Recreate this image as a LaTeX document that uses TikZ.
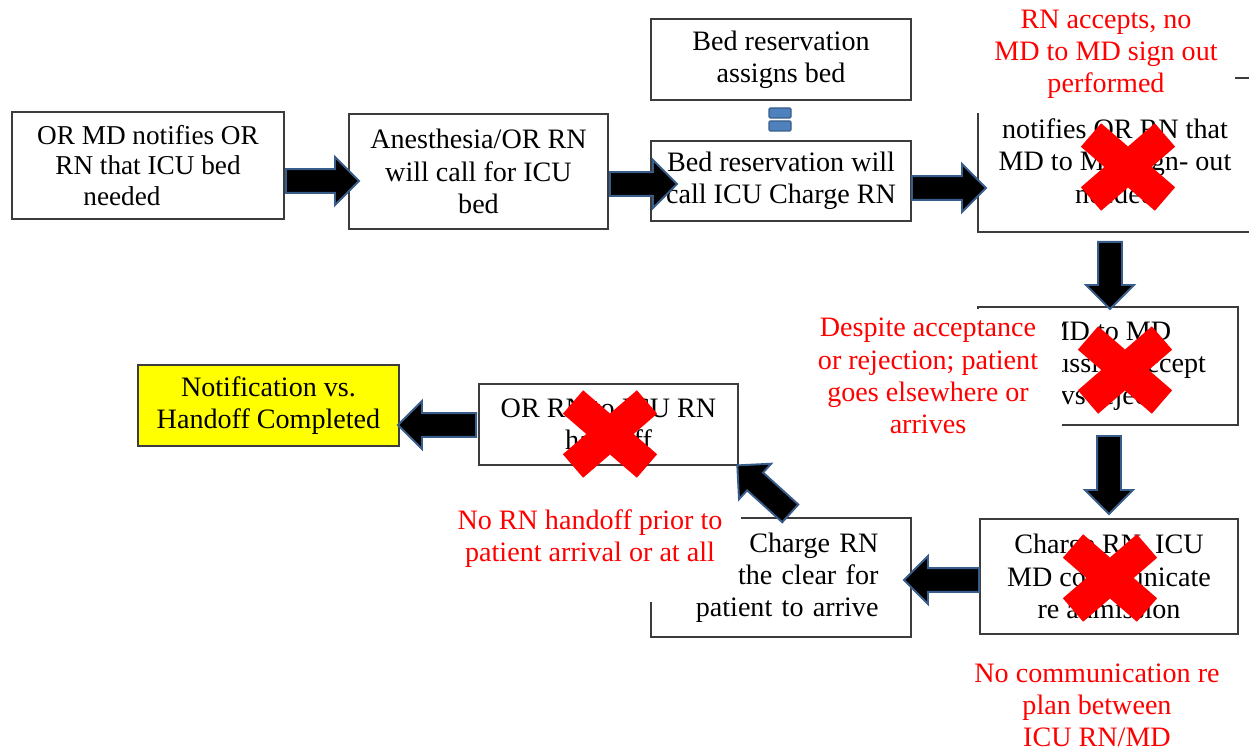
\documentclass[tikz,border=0pt]{standalone}
\usepackage{fontspec}
\setmainfont{Liberation Serif}
\usetikzlibrary{shapes.arrows,calc}

\definecolor{arrowedge}{RGB}{56,93,138}
\definecolor{eqfill}{RGB}{79,129,189}
\definecolor{boxedge}{RGB}{60,60,60}
\definecolor{hilite}{RGB}{255,255,0}

\tikzset{
  stepbox/.style={draw=boxedge, line width=0.75pt, fill=white, align=center,
    inner sep=0pt, font=\fontsize{16}{18.3}\selectfont},
  note/.style={text=red, align=center, inner sep=0pt,
    font=\fontsize{16}{18.3}\selectfont},
  cover/.style={fill=white, draw=none},
  barrow/.style={single arrow, fill=black, draw=arrowedge, line width=1.1pt,
    single arrow head extend=0.24cm, inner xsep=0pt, inner ysep=0.22cm,
    single arrow tip angle=90, single arrow head indent=0pt},
  eqbar/.style={fill=eqfill, draw=arrowedge, line width=0.6pt},
  redcross/.pic={\draw[red, line width=0.62cm, line cap=butt]
      (-37,-32) -- (37,32) (-37,32) -- (37,-32);}
}

% fat block arrow from #1 to #2
\newcommand{\barrowlink}[2]{%
  \path let \p1=(#1), \p2=(#2),
            \n1={veclen(\x2-\x1,\y2-\y1)},
            \n2={atan2(\y2-\y1,\x2-\x1)}
        in node[barrow, minimum height=\n1, rotate=\n2, anchor=tail]
           at (\p1) {};}

\begin{document}
\begin{tikzpicture}[x=0.02cm, y=-0.02cm]
\useasboundingbox (0,0) rectangle (1249,750);

% process boxes
\node[stepbox, font=\fontsize{15.5}{17.6}\selectfont, minimum width=5.44cm, minimum height=2.14cm]
  (orMd) at (148,165.5) {OR MD notifies OR\\RN that ICU bed\\needed\hspace*{1.04cm}};
\node[stepbox, minimum width=5.18cm, minimum height=2.30cm]
  (anesth) at (478.5,171.5) {Anesthesia/OR RN\\will call for ICU\\bed};
\node[stepbox, minimum width=5.2cm, minimum height=1.62cm]
  (assign) at (781,59.5) {Bed reservation\\assigns bed};
\node[stepbox, minimum width=5.2cm, minimum height=1.6cm]
  (bedcall) at (781,181) {Bed reservation will\\call ICU Charge RN};
\node[stepbox, minimum width=5.48cm, minimum height=3.08cm]
  (signout) at (1115,155) {\mbox{}\\notifies OR RN that\\MD to MD sign- out\\needed};
\node[stepbox, minimum width=5.2cm, minimum height=2.36cm]
  (discuss) at (1108,366) {MD to MD\\discussion accept\\vs reject};
\node[stepbox, minimum width=5.16cm, minimum height=2.3cm]
  (commun) at (1109,576.5) {Charge RN, ICU\\MD communicate\\re admission};
\node[stepbox, minimum width=5.2cm, minimum height=2.38cm, text width=3.9cm, align=right]
  (clear) at (781,577.5) {Charge RN\\the clear for\\patient to arrive};
\node[stepbox, minimum width=5.18cm, minimum height=1.62cm]
  (handoff) at (608.5,424.5) {OR RN to ICU RN\\handoff};
\node[stepbox, fill=hilite, minimum width=5.22cm, minimum height=1.62cm]
  (done) at (268.5,405.5) {Notification vs.\\Handoff Completed};

% equal sign between the two bed reservation boxes
\draw[eqbar, rounded corners=0.6pt] (769,108) rectangle (791,118);
\draw[eqbar, rounded corners=0.6pt] (769,121) rectangle (791,131);

% white backing behind the red remarks
\fill[cover] (968,0) rectangle (1235,113);
\fill[cover] (805,309) rectangle (1062,440);
\fill[cover] (440,505) rectangle (741,566);
\fill[cover] (440,566) rectangle (726,602);

% red remarks
\node[note] (remark1) at (1106,54) {RN accepts, no\\MD to MD sign out\\performed};
\node[note] (remark2) at (928,376) {Despite acceptance\\or rejection; patient\\goes elsewhere or\\arrives};
\node[note] (remark3) at (590,539) {No RN handoff prior to\\patient arrival or at all};
\node[note] (remark4) at (1097,705) {No communication re\\plan between\\ICU RN/MD};

% arrow end points
\coordinate (a1s) at (285,181);  \coordinate (a1e) at (358,181);
\coordinate (a2s) at (609,184);  \coordinate (a2e) at (676,184);
\coordinate (a3s) at (911,188);  \coordinate (a3e) at (985,188);
\coordinate (a4s) at (1110,241); \coordinate (a4e) at (1110,308);
\coordinate (a5s) at (1109,435); \coordinate (a5e) at (1109,513);
\coordinate (a6s) at (980,580);  \coordinate (a6e) at (905,580);
\coordinate (a7s) at (791,514);  \coordinate (a7e) at (738,466);
\coordinate (a8s) at (477,425);  \coordinate (a8e) at (399,425);

\barrowlink{a1s}{a1e}
\barrowlink{a2s}{a2e}
\barrowlink{a3s}{a3e}
\barrowlink{a4s}{a4e}
\barrowlink{a5s}{a5e}
\barrowlink{a6s}{a6e}
\barrowlink{a7s}{a7e}
\barrowlink{a8s}{a8e}

% failure marks
\pic at (1128,167) {redcross};
\pic at (1125,370) {redcross};
\pic at (1110,578) {redcross};
\pic at (610,434) {redcross};
\end{tikzpicture}
\end{document}
